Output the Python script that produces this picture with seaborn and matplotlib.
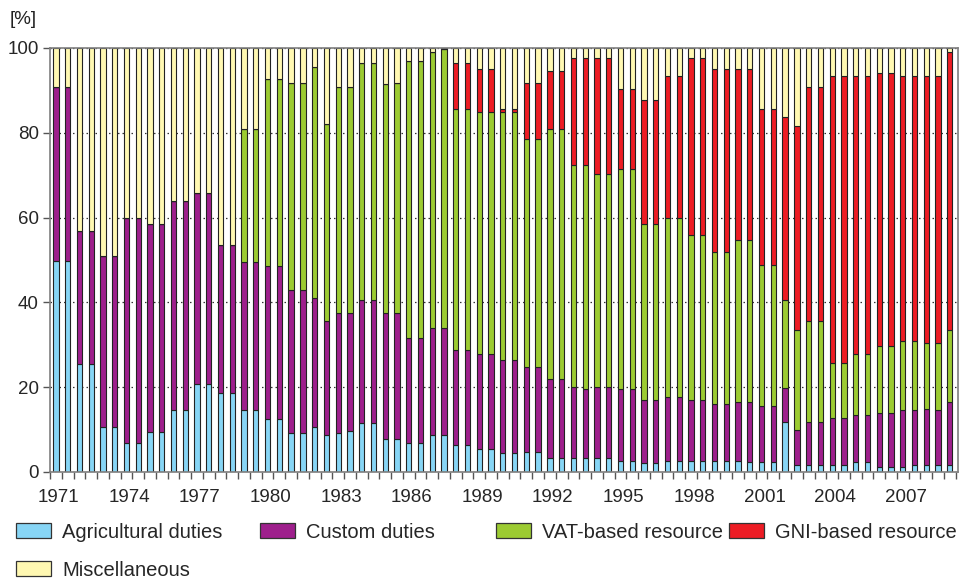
import numpy as np
import pandas as pd
import matplotlib
matplotlib.use("Agg")
import matplotlib.pyplot as plt
import matplotlib.patches as mpatches
import seaborn as sns

# ---------------- data ----------------
year_labels = ["1971", "1974", "1977", "1980", "1983", "1986", "1989",
               "1992", "1995", "1998", "2001", "2004", "2007"]

agricultural = [49.8, 49.8, 25.4, 25.4, 10.5, 10.5, 6.8, 6.8, 9.4, 9.4, 14.6, 14.6, 20.7, 20.7, 18.6, 18.6,
                14.6, 14.6, 12.4, 12.4, 9.3, 9.3,
                10.5, 8.7, 9.3, 9.7,
                11.5, 11.5, 7.7, 7.7, 6.8, 6.8, 8.7, 8.7,
                6.4, 6.4, 5.4, 5.4, 4.4, 4.4, 4.6, 4.6, 3.2, 3.2,
                3.2, 3.2, 3.2, 3.2, 2.7, 2.7,
                2.2, 2.2, 2.7, 2.7, 2.7, 2.7, 2.7, 2.7, 2.7, 2.3, 2.3, 2.3,
                11.7, 1.7, 1.7, 1.7, 1.7, 1.7, 2.3, 2.3, 1.1, 1.1, 1.1, 1.7, 1.7, 1.7, 1.7]

custom = [41.1, 41.1, 31.5, 31.5, 40.4, 40.4, 53.0, 53.0, 49.2, 49.2, 49.4, 49.4, 45.0, 45.0, 34.9, 34.9,
          34.9, 34.9, 36.1, 36.1, 33.7, 33.7,
          30.5, 27.0, 28.3, 27.9,
          29.1, 29.1, 29.9, 29.9, 24.8, 24.8, 25.2, 25.2,
          22.4, 22.4, 22.4, 22.4, 22.1, 22.1, 20.1, 20.1, 18.8, 18.8,
          16.8, 16.4, 16.8, 16.8, 16.9, 16.9,
          14.8, 14.8, 14.9, 14.9, 14.3, 14.3, 13.3, 13.3, 13.9, 14.3, 13.3, 13.3,
          8.1, 8.2, 10.2, 10.2, 11.0, 11.0, 11.2, 11.2, 12.8, 12.8, 13.5, 12.9, 13.2, 12.9, 14.9]

vat = [0.0] * 16 + [
       31.5, 31.5, 44.1, 44.1, 48.8, 48.8,
       54.6, 46.3, 53.3, 53.3,
       55.9, 55.9, 53.8, 54.2, 65.3, 65.3, 65.2, 65.8,
       56.9, 56.9, 57.2, 57.2, 58.5, 58.5, 53.9, 53.9, 58.8, 58.8,
       52.4, 52.8, 50.4, 50.4, 51.9, 51.9,
       41.5, 41.5, 42.3, 42.3, 38.8, 38.8, 35.9, 35.9, 38.0, 38.0, 33.3, 33.3,
       20.8, 23.6, 23.8, 23.8, 13.0, 13.0, 14.4, 14.4, 15.9, 15.9, 16.2, 16.2, 15.5, 15.8, 16.9]

gni = [0.0] * 34 + [
       10.8, 10.8, 10.0, 10.0, 0.7, 0.7, 13.2, 13.2, 13.8, 13.8,
       25.2, 25.2, 27.2, 27.2, 18.9, 18.9,
       29.2, 29.2, 33.5, 33.5, 41.8, 41.8, 43.1, 43.1, 40.4, 40.4, 36.8, 36.8,
       43.2, 48.2, 55.2, 55.2, 67.7, 67.7, 65.5, 65.5, 64.2, 64.2, 62.6, 62.6, 63.0, 63.0, 65.6]

misc = [9.1, 9.1, 43.1, 43.1, 49.1, 49.1, 40.2, 40.2, 41.4, 41.4, 36.0, 36.0, 34.3, 34.3, 46.5, 46.5,
        19.0, 19.0, 7.4, 7.4, 8.2, 8.2,
        4.4, 18.0, 9.1, 9.1,
        3.5, 3.5, 8.6, 8.2, 3.1, 3.1, 0.9, 0.3,
        3.5, 3.5, 5.0, 5.0, 14.3, 14.3, 8.2, 8.2, 5.4, 5.4,
        2.4, 2.4, 2.4, 2.4, 9.6, 9.6,
        12.3, 12.3, 6.6, 6.6, 2.4, 2.4, 5.0, 5.0, 5.0, 5.0, 14.3, 14.3,
        16.2, 18.3, 9.1, 9.1, 6.6, 6.6, 6.6, 6.6, 6.0, 6.0, 6.6, 6.6, 6.6, 6.6, 0.9]

series_names = ["Agricultural duties", "Custom duties", "VAT-based resource",
                "GNI-based resource", "Miscellaneous"]
series_values = [agricultural, custom, vat, gni, misc]
colors = ["#87d5f5", "#9e1f8c", "#9ccb32", "#ed1c24", "#fff8b2"]

# ---------------- long-form table ----------------
n = len(agricultural)
rows = []
for name, vals in zip(series_names, series_values):
    for i, v in enumerate(vals):
        rows.append({"pos": i, "series": name, "value": v})
df = pd.DataFrame(rows)

# ---------------- plot ----------------
sns.set_theme(style="white")
plt.rcParams["font.family"] = ["Liberation Sans", "DejaVu Sans"]

fig = plt.figure(figsize=(9.65, 5.8), dpi=100)
ax = fig.add_axes([50 / 965, 1 - 472 / 580, 908 / 965, (472 - 48) / 580])

# seaborn stacks the last hue level at the bottom
hue_order = series_names[::-1]
palette = dict(zip(series_names, colors))
sns.histplot(data=df, x="pos", weights="value", hue="series", hue_order=hue_order,
             multiple="stack", discrete=True, shrink=0.45, palette=palette,
             alpha=1, edgecolor="#222222", linewidth=0.8, legend=False, ax=ax)

ax.set_xlim(-0.5, n - 0.3)
ax.set_ylim(0, 100)
ax.set_xlabel("")
ax.set_ylabel("")

# gridlines
ax.set_axisbelow(True)
ax.yaxis.grid(True, linestyle=(0, (1.2, 2.4)), color="#333333", linewidth=0.9)
ax.xaxis.grid(False)

# y ticks
ax.set_yticks([0, 20, 40, 60, 80, 100])
ax.tick_params(axis="y", which="major", direction="out", length=5, width=1,
               color="#555555", labelsize=13.5, pad=3, left=True)

# x ticks: labels every 3 years, small tick marks between every bar
label_pos = [k * 6 + 0.25 for k in range(len(year_labels))]
ax.set_xticks(label_pos)
ax.set_xticklabels(year_labels)
ax.set_xticks(np.arange(-0.5, n, 1.0), minor=True)
ax.tick_params(axis="x", which="major", length=0, labelsize=13.5, pad=12)
ax.tick_params(axis="x", which="minor", direction="out", length=5, width=1,
               color="#555555", bottom=True)

for side, sp in ax.spines.items():
    sp.set_visible(True)
    sp.set_color("#7f7f7f")
    sp.set_linewidth(1.2)

fig.text(10 / 965, 1 - 19 / 580, "[%]", fontsize=13.5, va="center", ha="left",
         color="#222222")

# legend entries at fixed positions
legend_pos = [(16, 532), (260, 532), (496, 532), (729, 532), (16, 570)]
for name, col, (lx, ly) in zip(series_names, colors, legend_pos):
    h = mpatches.Patch(facecolor=col, edgecolor="#333333", linewidth=0.9, label=name)
    fig.legend(handles=[h], loc="center left", bbox_to_anchor=(lx / 965, 1 - ly / 580),
               frameon=False, fontsize=14.5, handlelength=1.75, handleheight=0.75,
               handletextpad=0.55, borderpad=0, borderaxespad=0)

fig.savefig("out.png", dpi=100)
